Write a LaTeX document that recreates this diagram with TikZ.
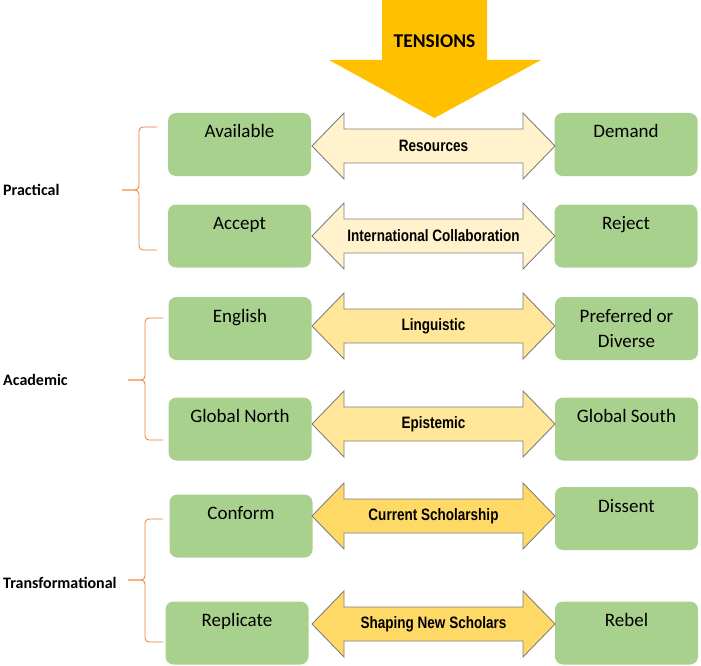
\documentclass[tikz,border=0pt]{standalone}
\usepackage{fontspec}
\setmainfont{Carlito}
\newfontfamily\narrowfont[FakeStretch=0.82]{Liberation Sans}

\definecolor{poleGreen}{HTML}{A9D18E}
\definecolor{tensionGold}{HTML}{FFC000}
\definecolor{lightTone}{HTML}{FFF2CC}
\definecolor{midTone}{HTML}{FFE699}
\definecolor{darkTone}{HTML}{FFD966}
\definecolor{edgeGray}{HTML}{808080}
\definecolor{braceOrange}{HTML}{ED7D31}

\tikzset{
    pole/.style = {rectangle, rounded corners=8pt, fill=poleGreen,
        minimum width=143pt, minimum height=63pt, inner sep=0pt,
        font=\fontsize{19}{25}\selectfont, align=center},
    poletop/.style = {pole, text height=14pt, text depth=27pt},
    tarrow/.style = {draw=edgeGray, line width=0.9pt, line join=miter},
    tlabel/.style = {font=\narrowfont\bfseries\fontsize{16.5}{20}\selectfont, inner sep=0pt},
    groupbrace/.style = {draw=braceOrange, line width=0.8pt, rounded corners=4pt},
    grouplabel/.style = {anchor=west, font=\bfseries\fontsize{16}{20}\selectfont, inner sep=0pt}
}

% double arrow between two poles: name, y, fill, label
\newcommand{\tension}[4]{%
    \filldraw[tarrow, fill=#3] (433.5,#2) ++(-121.5,0) -- ++(32,-33) -- ++(0,16)
        -- ++(179,0) -- ++(0,-16) -- ++(32,33) -- ++(-32,33) -- ++(0,-16)
        -- ++(-179,0) -- ++(0,16) -- cycle;
    \node[tlabel] (#1) at (433.5,#2) {#4};%
}

\begin{document}
\begin{tikzpicture}[x=1pt, y=-1pt]
    \useasboundingbox (0,0) rectangle (701,666);

    % Big arrow on top
    \fill[tensionGold] (382,0) -- (487,0) -- (487,60) -- (541,60) -- (434.5,118)
        -- (329,60) -- (382,60) -- cycle;
    \node[font=\bfseries\fontsize{19.5}{22}\selectfont] (tensions) at (434.5,41) {TENSIONS};

    % Practical
    \node[poletop] (avail) at (239.5,144.5) {Available};
    \node[poletop] (demand) at (626,144.5) {Demand};
    \tension{resources}{146}{lightTone}{Resources}

    \node[poletop] (accept) at (239.5,236) {Accept};
    \node[poletop] (reject) at (626,236) {Reject};
    \tension{collab}{236}{lightTone}{International Collaboration}

    % Academic
    \node[poletop] (english) at (240,328.5) {English};
    \node[pole] (preferred) at (626.5,328.5) {Preferred or\\Diverse};
    \tension{linguistic}{326}{midTone}{Linguistic}

    \node[poletop] (gnorth) at (240,429) {Global North};
    \node[poletop] (gsouth) at (626.5,429) {Global South};
    \tension{epistemic}{424}{midTone}{Epistemic}

    % Transformational
    \node[poletop] (conform) at (241,526) {Conform};
    \node[poletop] (dissent) at (626.5,518.5) {Dissent};
    \tension{scholarship}{516}{darkTone}{Current Scholarship}

    \node[poletop] (replicate) at (237,633) {Replicate};
    \node[poletop] (rebel) at (626.5,633) {Rebel};
    \tension{shaping}{624}{darkTone}{Shaping New Scholars}

    % Braces and group names
    \draw[groupbrace] (157,127) -- (139,127) -- (139,190) -- (122,190);
    \draw[groupbrace] (157,250) -- (139,250) -- (139,190) -- (122,190);
    \node[grouplabel] (practical) at (3,190) {Practical};

    \draw[groupbrace] (163,318) -- (145,318) -- (145,380) -- (128,380);
    \draw[groupbrace] (163,440) -- (145,440) -- (145,380) -- (128,380);
    \node[grouplabel] (academic) at (3,380) {Academic};

    \draw[groupbrace] (163,519) -- (145,519) -- (145,580) -- (128,580);
    \draw[groupbrace] (163,642) -- (145,642) -- (145,580) -- (128,580);
    \node[grouplabel] (transformational) at (3,583) {Transformational};
\end{tikzpicture}
\end{document}
